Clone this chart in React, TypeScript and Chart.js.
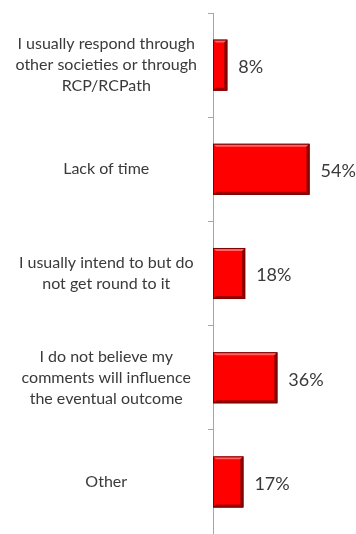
import React, { useEffect, useRef } from "react";
import { Chart, registerables } from "chart.js";

Chart.register(...registerables);

const categories: string[][] = [
  ["I usually respond through", "other societies or through", "RCP/RCPath"],
  ["Lack of time"],
  ["I usually intend to but do", "not get round to it"],
  ["I do not believe my", "comments will influence", "the eventual outcome"],
  ["Other"],
];
const values: number[] = [8, 54, 18, 36, 17];
const valueLabels: string[] = ["8%", "54%", "18%", "36%", "17%"];

const FONT = "Lato, 'Open Sans', sans-serif";

const valueLabelPlugin = {
  id: "valueLabels",
  afterDatasetsDraw(chart: any) {
    const ctx = chart.ctx;
    const meta = chart.getDatasetMeta(0);
    ctx.save();
    ctx.font = `18px ${FONT}`;
    ctx.fillStyle = "#3a3a3a";
    ctx.textAlign = "left";
    ctx.textBaseline = "middle";
    meta.data.forEach((bar: any, i: number) => {
      ctx.fillText(valueLabels[i], bar.x + 11, bar.y + 2);
    });
    ctx.restore();
  },
};

const bevelPlugin = {
  id: "bevel",
  afterDatasetsDraw(chart: any) {
    const ctx = chart.ctx;
    const meta = chart.getDatasetMeta(0);
    ctx.save();
    meta.data.forEach((bar: any) => {
      const x0 = bar.base;
      const x1 = bar.x;
      const h = bar.height;
      const y0 = bar.y - h / 2;
      const y1 = bar.y + h / 2;
      const b = 3;
      ctx.fillStyle = "rgba(255,120,120,0.8)";
      ctx.beginPath();
      ctx.moveTo(x0, y0);
      ctx.lineTo(x1, y0);
      ctx.lineTo(x1 - b, y0 + b);
      ctx.lineTo(x0 + b, y0 + b);
      ctx.closePath();
      ctx.fill();
      ctx.fillStyle = "#8a0000";
      ctx.beginPath();
      ctx.moveTo(x1, y0);
      ctx.lineTo(x1, y1);
      ctx.lineTo(x1 - b, y1 - b);
      ctx.lineTo(x1 - b, y0 + b);
      ctx.closePath();
      ctx.fill();
      ctx.fillStyle = "#a00000";
      ctx.beginPath();
      ctx.moveTo(x0, y1);
      ctx.lineTo(x1, y1);
      ctx.lineTo(x1 - b, y1 - b);
      ctx.lineTo(x0 + b, y1 - b);
      ctx.closePath();
      ctx.fill();
      ctx.strokeStyle = "#7a0000";
      ctx.lineWidth = 1;
      ctx.strokeRect(x0 + 0.5, y0 + 0.5, x1 - x0 - 1, h - 1);
    });
    ctx.restore();
  },
};

export default function App() {
  const canvasRef = useRef<HTMLCanvasElement>(null);

  useEffect(() => {
    document.body.style.margin = "0";
    const canvas = canvasRef.current;
    if (!canvas) return;
    const chart = new Chart(canvas, {
      type: "bar",
      data: {
        labels: categories,
        datasets: [
          {
            data: values,
            backgroundColor: "#fe0000",
            borderWidth: 0,
            categoryPercentage: 1,
            barPercentage: 0.49,
          },
        ],
      },
      options: {
        indexAxis: "y",
        animation: false,
        responsive: false,
        maintainAspectRatio: false,
        layout: { padding: { top: 13, bottom: -7, right: 0, left: 0 } },
        plugins: {
          legend: { display: false },
          tooltip: { enabled: false },
        },
        scales: {
          x: {
            display: false,
            min: 0,
            max: 80,
          },
          y: {
            afterFit(scale: any) {
              scale.width = 213;
              scale.paddingTop = 0;
              scale.paddingBottom = 0;
            },
            border: { display: true, color: "#a6a6a6", width: 1 },
            grid: {
              display: true,
              drawOnChartArea: false,
              drawTicks: true,
              tickLength: 5,
              color: "#a6a6a6",
              offset: true,
            },
            ticks: {
              crossAlign: "center",
              padding: 11,
              color: "#3a3a3a",
              font: { family: FONT, size: 16, lineHeight: 1.32 },
              autoSkip: false,
            },
          },
        },
      },
      plugins: [bevelPlugin, valueLabelPlugin],
    } as any);
    return () => chart.destroy();
  }, []);

  return (
    <div style={{ width: 356, height: 534, background: "#fff" }}>
      <canvas ref={canvasRef} width={356} height={534} style={{ display: "block" }} />
    </div>
  );
}
